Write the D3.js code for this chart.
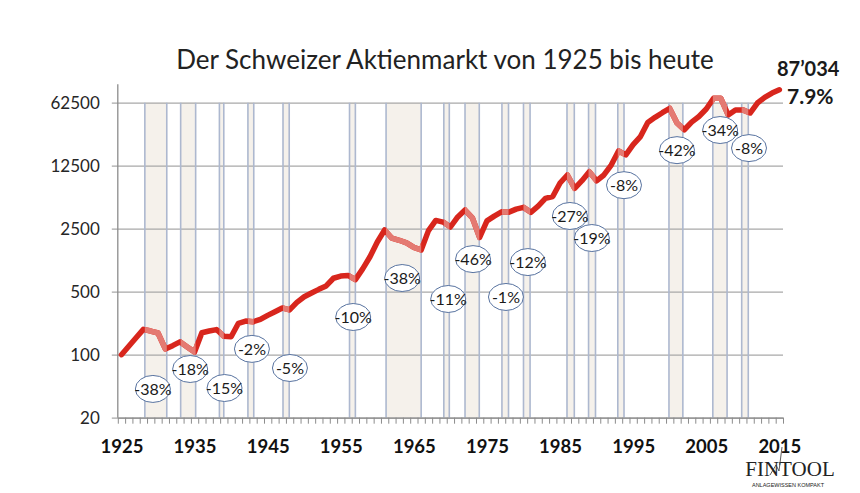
<!DOCTYPE html>
<html lang="de">
<head>
<meta charset="utf-8">
<title>Der Schweizer Aktienmarkt von 1925 bis heute</title>
<style>
  body { margin: 0; background: #fff; }
  text { font-family: Lato, "Open Sans", sans-serif; fill: #1a1a1a; }
  .yaxis text { font-size: 17px; fill: #262626; }
  .yaxis line { stroke: #a8a8a8; stroke-width: 1.3px; }
  .xminor line { stroke: #8c8c8c; stroke-width: 1px; }
  .xlabels text { font-size: 18.5px; font-weight: bold; fill: #111; }
  .drop text { font-size: 16px; }
  .logo text { font-family: "Liberation Serif", serif; fill: #222; }
</style>
</head>
<body>
<script src="https://cdn.jsdelivr.net/npm/d3@7/dist/d3.min.js"></script>
<script>
// Index level, 1925 = 100 (log scale)
var years = d3.range(1925, 2016);
var index = [
  100, 124, 154, 191, 183, 174, 116, 126, 139, 122,     // 1925-1934
  107, 175, 183, 190, 160, 158, 223, 236, 232, 246,     // 1935-1944
  273, 300, 330, 314, 380, 439, 483, 531, 580, 705,     // 1945-1954
  746, 757, 680, 895, 1220, 1780, 2420, 1960, 1860, 1740, // 1955-1964
  1550, 1450, 2380, 3090, 2960, 2610, 3380, 4030, 3300, 2000, // 1965-1974
  3050, 3450, 3850, 3810, 4120, 4310, 3800, 4450, 5430, 5690, // 1975-1984
  8030, 9860, 7000, 8530, 10700, 8500, 9860, 12700, 18200, 16500, // 1985-1994
  21400, 26300, 37700, 43000, 48400, 54000, 37300, 31300, 38100, 43900, // 1995-2004
  53200, 69800, 69800, 45700, 51900, 52000, 48000, 62000, 71700, 80000, // 2005-2014
  87034                                                  // 2015
];

// Crash periods (shaded), start / end in years
var bandStart = [1928.2, 1933.1, 1938.4, 1942.3, 1947.1, 1956.2, 1961.2, 1969.1, 1972.0,
                 1977.05, 1980.0, 1985.95, 1988.9, 1992.9, 1999.9, 2005.9, 2009.85];
var bandEnd   = [1931.2, 1935.15, 1939.0, 1943.1, 1947.95, 1957.0, 1966.0, 1969.85, 1973.95,
                 1977.95, 1980.9, 1986.95, 1989.85, 1993.75, 2001.8, 2007.85, 2010.75];

// Loss labels and where they sit (year, index level)
var dropText  = ["-38%", "-18%", "-15%", "-2%", "-5%", "-10%", "-38%", "-11%", "-46%",
                 "-1%", "-12%", "-27%", "-19%", "-8%", "-42%", "-34%", "-8%"];
var dropYear  = [1929.3, 1934.4, 1939.1, 1942.85, 1948.05, 1956.7, 1963.4, 1969.7, 1973.1,
                 1977.6, 1980.6, 1986.35, 1989.35, 1993.75, 2001.0, 2006.9, 2010.85];
var dropLevel = [41.7, 69.4, 42.7, 116, 71.2, 262, 709, 415, 1150,
                 437, 1066, 3460, 1970, 7600, 18600, 31100, 19600];

var yTicks = [20, 100, 500, 2500, 12500, 62500];
var xLabelYears = [1925, 1935, 1945, 1955, 1965, 1975, 1985, 1995, 2005, 2015];

var title = "Der Schweizer Aktienmarkt von 1925 bis heute";
var endValue = "87\u2019034";
var endReturn = "7.9%";

var w = 860, h = 493;

var svg = d3.select("body").append("svg")
  .attr("width", w)
  .attr("height", h);

// Category axis: each year gets one slot, points sit in the middle
var x = d3.scaleLinear()
  .domain([1924.5, 2015.5])
  .range([117.8, 783]);

var y = d3.scaleLog()
  .base(5)
  .domain([20, 100000])
  .range([417.7, 84.3]);

var plotTop = y(62500), plotBottom = y(20);

// Shaded bands behind everything
var bands = d3.range(bandStart.length);

svg.append("g").selectAll("rect")
  .data(bands)
  .enter()
  .append("rect")
  .attr("x", function(i) { return x(bandStart[i]); })
  .attr("y", plotTop)
  .attr("width", function(i) { return x(bandEnd[i]) - x(bandStart[i]); })
  .attr("height", plotBottom - plotTop)
  .attr("fill", "#f5f1eb");

// Horizontal grid + y labels
var yAxis = d3.axisLeft(y)
  .tickValues(yTicks)
  .tickFormat(d3.format("d"))
  .tickSize(-(x.range()[1] - x.range()[0] + 6))
  .tickPadding(12);

svg.append("g")
  .attr("class", "yaxis")
  .attr("transform", "translate(" + (x.range()[0] - 6) + ",0)")
  .call(yAxis)
  .call(function(g) { g.select(".domain").remove(); });

// Band edges
var edges = [];
bands.forEach(function(i) { edges.push(bandStart[i], bandEnd[i]); });

svg.append("g").selectAll("line")
  .data(edges)
  .enter()
  .append("line")
  .attr("x1", function(d) { return x(d); })
  .attr("x2", function(d) { return x(d); })
  .attr("y1", plotTop)
  .attr("y2", plotBottom)
  .attr("stroke", "#adb8cf")
  .attr("stroke-width", 1.6);

// Vertical axis line
svg.append("line")
  .attr("x1", x.range()[0]).attr("x2", x.range()[0])
  .attr("y1", y(100000)).attr("y2", plotBottom)
  .attr("stroke", "#8c8c8c")
  .attr("stroke-width", 1.3);

// X axis: minor ticks on the slot boundaries, bold labels every 10 years
var boundaries = years.map(function(d) { return d - 0.5; }).concat([2015.5]);

svg.append("g")
  .attr("class", "xminor")
  .attr("transform", "translate(0," + plotBottom + ")")
  .call(d3.axisBottom(x).tickValues(boundaries).tickFormat("").tickSizeInner(6).tickSizeOuter(0))
  .call(function(g) { g.select(".domain").attr("stroke", "#8c8c8c").attr("stroke-width", 1.3); });

svg.append("g")
  .attr("class", "xlabels")
  .attr("transform", "translate(0," + plotBottom + ")")
  .call(d3.axisBottom(x).tickValues(xLabelYears).tickFormat(d3.format("d")).tickSize(0).tickPadding(22))
  .call(function(g) { g.select(".domain").remove(); });

// Index line
var line = d3.line()
  .x(function(d, i) { return x(years[i]); })
  .y(function(d) { return y(d); });

svg.append("path")
  .datum(index)
  .attr("d", line)
  .attr("fill", "none")
  .attr("stroke", "#d8261d")
  .attr("stroke-width", 5.5)
  .attr("stroke-linejoin", "round")
  .attr("stroke-linecap", "round");

// Lighter line inside the crash bands
svg.append("clipPath")
  .attr("id", "bandclip")
  .selectAll("rect")
  .data(bands)
  .enter()
  .append("rect")
  .attr("x", function(i) { return x(bandStart[i]); })
  .attr("y", plotTop - 20)
  .attr("width", function(i) { return x(bandEnd[i]) - x(bandStart[i]); })
  .attr("height", plotBottom - plotTop + 20);

svg.append("path")
  .datum(index)
  .attr("d", line)
  .attr("clip-path", "url(#bandclip)")
  .attr("fill", "none")
  .attr("stroke", "#e47a72")
  .attr("stroke-width", 5.5)
  .attr("stroke-linejoin", "round");

// Loss bubbles
var drops = svg.append("g")
  .attr("class", "drop")
  .selectAll("g")
  .data(bands)
  .enter()
  .append("g")
  .attr("transform", function(i) { return "translate(" + x(dropYear[i]) + "," + y(dropLevel[i]) + ")"; });

drops.append("ellipse")
  .attr("rx", 17.5)
  .attr("ry", 13.5)
  .attr("fill", "#fff")
  .attr("stroke", "#5873a0")
  .attr("stroke-width", 1);

drops.append("text")
  .attr("text-anchor", "middle")
  .attr("dy", "0.36em")
  .text(function(i) { return dropText[i]; });

// Title
svg.append("text")
  .attr("x", 445)
  .attr("y", 69)
  .attr("text-anchor", "middle")
  .style("font-size", "26px")
  .style("fill", "#222")
  .text(title);

// End value and yearly return
svg.append("text")
  .attr("x", 777)
  .attr("y", 76)
  .style("font-size", "20px")
  .style("font-weight", "bold")
  .text(endValue);

svg.append("text")
  .attr("x", 787)
  .attr("y", 104)
  .style("font-size", "21px")
  .style("font-weight", "bold")
  .text(endReturn);

// Logo
var logo = svg.append("g").attr("class", "logo");

logo.append("text")
  .attr("x", 790)
  .attr("y", 476)
  .attr("text-anchor", "middle")
  .style("font-size", "21px")
  .text("FINTOOL");

logo.append("text")
  .attr("x", 788)
  .attr("y", 487)
  .attr("text-anchor", "middle")
  .style("font-family", "'Liberation Sans Narrow', 'Liberation Sans', sans-serif")
  .style("font-size", "5.5px")
  .text("ANLAGEWISSEN KOMPAKT");

logo.append("path")
  .attr("d", "M770,475 L776,465 L779,471 L782,447")
  .attr("fill", "none")
  .attr("stroke", "#333")
  .attr("stroke-width", 0.8);
</script>
</body>
</html>
